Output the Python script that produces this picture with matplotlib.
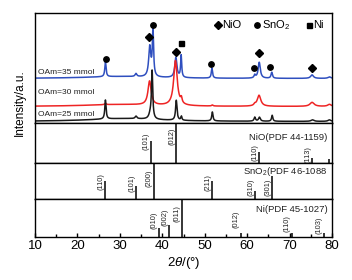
import numpy as np
import matplotlib
matplotlib.use("Agg")
import matplotlib.pyplot as plt

plt.rcParams['font.family'] = ['Liberation Sans', 'DejaVu Sans']
plt.rcParams['mathtext.fontset'] = 'custom'
plt.rcParams['mathtext.rm'] = 'Liberation Sans'
plt.rcParams['mathtext.it'] = 'Liberation Sans:italic'

# ---------------- data ----------------
two_theta_range = (10, 80)
x_ticks = [10, 20, 30, 40, 50, 60, 70, 80]

series_names = ["OAm=35 mmol", "OAm=30 mmol", "OAm=25 mmol"]
series_colors = ["#2f4fbf", "#ee2424", "#1a1a1a"]
series_baseline = [44.5, 16.5, 1.5]

# peaks: position (deg), height above baseline, FWHM (deg)
peaks_35_pos = [30.0, 26.6, 33.8, 37.05, 37.8, 43.2, 44.45, 51.7, 61.8, 62.85, 65.8, 75.3, 79.4]
peaks_35_h   = [2.0, 15.0, 3.0, 30.0, 46.0, 20.0, 22.0, 10.0, 3.0, 16.0, 6.0, 3.5, 1.5]
peaks_35_w   = [20.0, 0.35, 0.5, 0.6, 0.35, 0.6, 0.3, 0.35, 0.4, 0.6, 0.4, 0.8, 0.8]

peaks_30_pos = [30.0, 26.6, 37.0, 43.1, 44.5, 51.8, 61.8, 62.8, 75.3, 79.4]
peaks_30_h   = [2.0, 1.5, 24.0, 45.0, 5.0, 1.0, 1.5, 11.0, 4.0, 2.0]
peaks_30_w   = [20.0, 0.4, 0.9, 1.0, 0.4, 0.4, 0.5, 1.0, 1.2, 1.0]

peaks_25_pos = [31.0, 26.6, 33.8, 37.2, 37.6, 43.3, 44.5, 51.8, 61.8, 62.9, 65.9, 75.4, 79.4]
peaks_25_h   = [3.0, 19.0, 2.5, 5.0, 47.0, 20.0, 4.0, 9.0, 4.0, 4.0, 6.0, 1.5, 1.5]
peaks_25_w   = [20.0, 0.35, 0.5, 0.8, 0.35, 0.4, 0.3, 0.35, 0.4, 0.5, 0.35, 0.8, 0.8]

# phase markers above the patterns
nio_marks_x = [36.8, 43.2, 62.8, 75.2]
nio_marks_y = [86, 71, 70, 55]
sno2_marks_x = [26.7, 37.7, 51.5, 61.5, 65.3]
sno2_marks_y = [64, 98, 59, 55, 56]
ni_marks_x = [44.5]
ni_marks_y = [80]

# reference cards
nio_card = "NiO(PDF 44-1159)"
nio_ref_pos = [37.25, 43.28, 62.9, 75.4, 79.4]
nio_ref_int = [22, 40, 11, 5, 4]
nio_ref_hkl = ["(101)", "(012)", "(110)", "(113)", ""]

sno2_card = "SnO$_2$(PDF 46-1088"
sno2_ref_pos = [26.6, 33.9, 37.95, 51.8, 61.9, 65.9]
sno2_ref_int = [18, 13, 36, 18, 8, 23]
sno2_ref_hkl = ["(110)", "(101)", "(200)", "(211)", "(310)", "(301)"]

ni_card = "Ni(PDF 45-1027)"
ni_ref_pos = [39.2, 41.65, 44.6, 58.5, 70.5, 78.0]
ni_ref_int = [9, 12, 38, 4, 4, 4]
ni_ref_hkl = ["(010)", "(002)", "(011)", "(012)", "(110)", "(103)"]

# ---------------- layout ----------------
W, H = 352, 280
fig = plt.figure(figsize=(W / 100, H / 100), dpi=100)
left_px, right_px = 35, 332
top_px = 13
panel_px = [110, 40, 36, 38]
axes = []
y = top_px
for hpx in panel_px:
    ax = fig.add_axes([left_px / W, 1 - (y + hpx) / H, (right_px - left_px) / W, hpx / H])
    ax.set_xlim(*two_theta_range)
    ax.set_ylim(0, hpx)
    ax.set_yticks([])
    for s in ax.spines.values():
        s.set_linewidth(1.0)
    axes.append(ax)
    y += hpx

ax_xrd, ax_nio, ax_sno2, ax_ni = axes
for ax in axes[:-1]:
    ax.set_xticks([])

x = np.linspace(10, 80, 3500)


def pattern(pos, h, w, base):
    pos = np.asarray(pos)[:, None]
    h = np.asarray(h)[:, None]
    w = np.asarray(w)[:, None]
    return base + (h / (1 + ((x - pos) / (w / 2)) ** 2)).sum(axis=0)


all_peaks = [(peaks_35_pos, peaks_35_h, peaks_35_w),
             (peaks_30_pos, peaks_30_h, peaks_30_w),
             (peaks_25_pos, peaks_25_h, peaks_25_w)]
label_y = [50, 31, 8]
for (p, h, w), base, col, name, ly in zip(all_peaks, series_baseline, series_colors, series_names, label_y):
    ax_xrd.plot(x, pattern(p, h, w, base), color=col, lw=1.1)
    ax_xrd.text(10.6, ly, name, fontsize=6, color="#222222", va="center", ha="left")

mk = dict(color="black", linestyle="none")
ax_xrd.plot(nio_marks_x, nio_marks_y, marker="D", markersize=3.6, **mk)
ax_xrd.plot(sno2_marks_x, sno2_marks_y, marker="o", markersize=3.9, **mk)
ax_xrd.plot(ni_marks_x, ni_marks_y, marker="s", markersize=3.6, **mk)

# legend row
ax_xrd.plot([53.1], [98], marker="D", markersize=3.6, **mk)
ax_xrd.text(54.2, 98, "NiO", fontsize=8, va="center", ha="left")
ax_xrd.plot([62.4], [98], marker="o", markersize=3.9, **mk)
ax_xrd.text(63.4, 98, "SnO$_2$", fontsize=8, va="center", ha="left")
ax_xrd.plot([74.6], [98], marker="s", markersize=3.6, **mk)
ax_xrd.text(75.6, 98, "Ni", fontsize=8, va="center", ha="left")


def ref_panel(ax, card, pos, inten, hkl, label_c, card_y):
    ax.vlines(pos, 0, inten, color="black", lw=1.1)
    for p, hk, c in zip(pos, hkl, label_c):
        if hk:
            ax.text(p - 1.1, c, hk, rotation=90, fontsize=5.3, ha="center", va="center", color="#222222")
    ax.text(79.0, card_y, card, fontsize=6.8, ha="right", va="center", color="#222222")


ref_panel(ax_nio, nio_card, nio_ref_pos, nio_ref_int, nio_ref_hkl, [22, 27, 10, 8.5, 0], 26)
ref_panel(ax_sno2, sno2_card, sno2_ref_pos, sno2_ref_int, sno2_ref_hkl, [17.5, 16, 20.5, 16, 11.5, 11.5], 27.5)
ref_panel(ax_ni, ni_card, ni_ref_pos, ni_ref_int, ni_ref_hkl, [17, 20, 23.5, 17.5, 13.5, 12], 28)

ax_ni.set_xticks(x_ticks)
ax_ni.set_xticks(np.arange(15, 80, 10), minor=True)
ax_ni.tick_params(axis="x", which="major", direction="in", length=3, width=1.0, labelsize=9.5, pad=2)
ax_ni.tick_params(axis="x", which="minor", direction="in", length=2, width=1.0)
ax_ni.set_xlabel(r"2$\theta$/(°)", fontsize=9.5, labelpad=2)

fig.text(20 / W, 1 - 103 / H, "Intensity/a.u.", rotation=90, fontsize=8.5, ha="center", va="center")

fig.savefig("out.png", dpi=100)
